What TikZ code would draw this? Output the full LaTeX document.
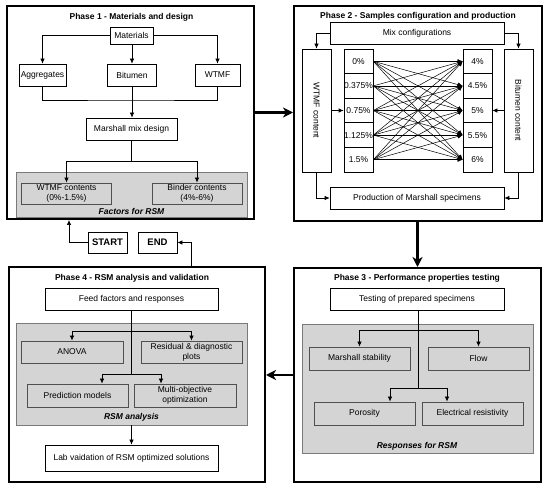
\documentclass[tikz,border=0pt]{standalone}
\usepackage{fontspec}
\setmainfont{Liberation Sans}
\usetikzlibrary{arrows.meta,calc}
\definecolor{grayfill}{HTML}{D4D4D4}
\definecolor{grayline}{HTML}{7A7A7A}
\definecolor{innerline}{HTML}{505050}
\begin{document}
\begin{tikzpicture}[x=1pt,y=-1pt,
  font=\fontsize{8.5}{10}\selectfont,
  box/.style={draw=black,line width=0.7pt,fill=white,inner sep=1pt,align=center},
  gbox/.style={draw=innerline,line width=0.8pt,fill=grayfill,inner sep=1pt,align=center},
  garea/.style={draw=grayline,line width=0.8pt,fill=grayfill,inner sep=0pt},
  phase/.style={draw=black,line width=2pt,fill=white,inner sep=0pt},
  ptitle/.style={font=\fontsize{8.5}{10}\selectfont\bfseries,inner sep=0pt},
  glabel/.style={font=\fontsize{8.5}{10}\selectfont\bfseries\itshape,inner sep=0pt},
  ln/.style={line width=0.7pt},
  arr/.style={line width=0.7pt,-{Latex[length=5pt,width=4.5pt]}},
  bigarr/.style={line width=2.5pt,-{Stealth[length=10pt,width=10pt,inset=3pt]}},
  termbox/.style={draw=black,line width=0.8pt,fill=white,inner sep=0pt,font=\fontsize{9.5}{11}\selectfont\bfseries}
]
\useasboundingbox (0,0) rectangle (550,489);
\fill[white] (0,0) rectangle (550,489);

% ---------------- Phase boxes
\node[phase,minimum width=247pt,minimum height=213pt] (p1) at (130.5,112.5) {};
\node[phase,minimum width=248pt,minimum height=215pt] (p2) at (418,113.5) {};
\node[phase,minimum width=247pt,minimum height=214pt] (p3) at (417.5,375) {};
\node[phase,minimum width=256pt,minimum height=215pt] (p4) at (137,374.5) {};

% ---------------- Phase 1
\node[ptitle] (t1) at (131.5,17) {Phase 1 - Materials and design};
\node[box,minimum width=43pt,minimum height=17pt] (mat) at (131.5,35.5) {Materials};
\node[box,minimum width=47pt,minimum height=22pt] (agg) at (42.5,75) {Aggregates};
\node[box,minimum width=49pt,minimum height=22pt] (bit) at (132,75) {Bitumen};
\node[box,minimum width=45pt,minimum height=22pt] (wtmf) at (217.5,75) {WTMF};
\node[box,minimum width=91pt,minimum height=22pt] (mix) at (131.5,129) {Marshall mix design};
\node[garea,minimum width=231pt,minimum height=45pt] (fac) at (131.5,194.5) {};
\node[gbox,minimum width=90pt,minimum height=21pt] (wc) at (66.5,193.5) {WTMF contents\\(0\%-1.5\%)};
\node[gbox,minimum width=90pt,minimum height=21pt] (bc) at (197,193.5) {Binder contents\\(4\%-6\%)};
\node[glabel] (facl) at (131.5,211) {Factors for RSM};

\coordinate (j1) at (132,100);
\coordinate (j2) at (131.5,161);
\draw[arr] (mat.west) -| (agg.north);
\draw[arr] (mat.east) -| (wtmf.north);
\draw[arr] (mat.south -| bit.north) -- (bit.north);
\draw[ln] (agg.south) |- (j1) -| (wtmf.south);
\draw[arr] (bit.south) -- (mix.north -| bit.south);
\draw[ln] (mix.south) -- (j2);
\draw[arr] (j2) -| (wc.north);
\draw[arr] (j2) -| (bc.north);

% ---------------- START / END
\node[termbox,minimum width=39pt,minimum height=21pt] (start) at (107.5,242.5) {START};
\node[termbox,minimum width=39pt,minimum height=21pt] (end) at (157.5,242.5) {END};
\coordinate (p1in) at ($(p1.south west)+(63,0)$);
\coordinate (p4out) at ($(p4.north west)+(183,0)$);
\draw[arr] (start.west) -| (p1in);
\draw[arr] (p4out) |- (end.east);

% ---------------- Phase 2
\node[ptitle] (t2) at (418,16) {Phase 2 - Samples configuration and production};
\node[box,minimum width=174pt,minimum height=22pt] (mixc) at (417,33) {Mix configurations};
\node[box,minimum width=29pt,minimum height=123pt] (wcont) at (316.5,110.5) {};
\node[rotate=-90,inner sep=0pt] (wcontt) at (wcont.center) {WTMF content};
\node[box,minimum width=29pt,minimum height=123pt] (bcont) at (518.5,110.5) {};
\node[rotate=-90,inner sep=0pt] (bcontt) at (bcont.center) {Bitumen content};
\node[box,minimum width=174pt,minimum height=22pt] (prod) at (417,198) {Production of Marshall specimens};

\foreach \t [count=\i] in {0\%,0.375\%,0.75\%,1.125\%,1.5\%}{
  \node[box,inner sep=0pt,minimum width=29pt,minimum height=24.6pt] (L\i) at (358.5,{49+12.3+24.6*(\i-1)}) {\t};
}
\foreach \t [count=\i] in {4\%,4.5\%,5\%,5.5\%,6\%}{
  \node[box,inner sep=0pt,minimum width=29pt,minimum height=24.6pt] (R\i) at (477.5,{49+12.3+24.6*(\i-1)}) {\t};
}
\foreach \i in {1,...,5}{
  \foreach \j in {1,...,5}{
    \draw[line width=0.5pt,-{Latex[length=5pt,width=4.5pt]}] (L\i.east) -- (R\j.west);
  }
}
\draw[arr] (mixc.west) -| (wcont.north);
\draw[arr] (mixc.east) -| (bcont.north);
\draw[arr] (wcont.east) -- (L3.west);
\draw[arr] (bcont.west) -- (R3.east);
\draw[arr] (wcont.south) |- (prod.west);
\draw[arr] (bcont.south) |- (prod.east);

% ---------------- Phase 3
\node[ptitle] (t3) at (417,278) {Phase 3 - Performance properties testing};
\node[box,minimum width=174pt,minimum height=22pt] (test) at (417,299) {Testing of prepared specimens};
\node[garea,minimum width=231pt,minimum height=129pt] (resp) at (417.5,388.5) {};
\node[gbox,minimum width=101pt,minimum height=23pt] (ms) at (359.5,358.5) {Marshall stability};
\node[gbox,minimum width=101pt,minimum height=23pt] (flow) at (478.5,358.5) {Flow};
\node[gbox,minimum width=101pt,minimum height=23pt] (poro) at (364.5,413.5) {Porosity};
\node[gbox,minimum width=101pt,minimum height=23pt] (elec) at (472.5,413.5) {Electrical resistivity};
\node[glabel] (respl) at (417,446) {Responses for RSM};
\coordinate (j3) at (418,330);
\coordinate (j4) at (418,388);
\draw[ln] (test.south -| j3) -- (j4);
\draw[arr] (j3) -| (ms.north);
\draw[arr] (j3) -| (flow.north);
\draw[arr] (j4) -| ([xshift=25.5pt]poro.north);
\draw[arr] (j4) -| ([xshift=-25.5pt]elec.north);

% ---------------- Phase 4
\node[ptitle] (t4) at (132,278) {Phase 4 - RSM analysis and validation};
\node[box,minimum width=173pt,minimum height=22pt] (feed) at (131.5,299) {Feed factors and responses};
\node[garea,minimum width=231pt,minimum height=102pt] (rsm) at (131.5,374) {};
\node[gbox,minimum width=102pt,minimum height=22pt] (anova) at (72,352) {ANOVA};
\node[gbox,minimum width=101pt,minimum height=22pt] (resid) at (191.5,352) {Residual \& diagnostic\\plots};
\node[gbox,minimum width=101pt,minimum height=23pt] (pred) at (77.5,395.5) {Prediction models};
\node[gbox,minimum width=102pt,minimum height=23pt] (multi) at (185,395.5) {Multi-objective\\optimization};
\node[glabel] (rsml) at (131.5,417) {RSM analysis};
\node[box,minimum width=173pt,minimum height=26pt] (lab) at (131.5,458) {Lab vaidation of RSM optimized solutions};
\coordinate (j5) at (131.5,331);
\coordinate (j6) at (131.5,374);
\draw[ln] (feed.south) -- (j6);
\draw[arr] (j5) -| (anova.north);
\draw[arr] (j5) -| (resid.north);
\draw[arr] (j6) -| ([xshift=24.5pt]pred.north);
\draw[arr] (j6) -| ([xshift=-24pt]multi.north);
\draw[arr] (rsm.south) -- (lab.north);

% ---------------- Phase links
\draw[bigarr] (p1.east) -- (p1.east -| p2.west);
\draw[bigarr] (p2.south -| p3.north) -- (p3.north);
\draw[bigarr] (p3.west |- p3.west) -- (p3.west -| p4.east);
\end{tikzpicture}
\end{document}
